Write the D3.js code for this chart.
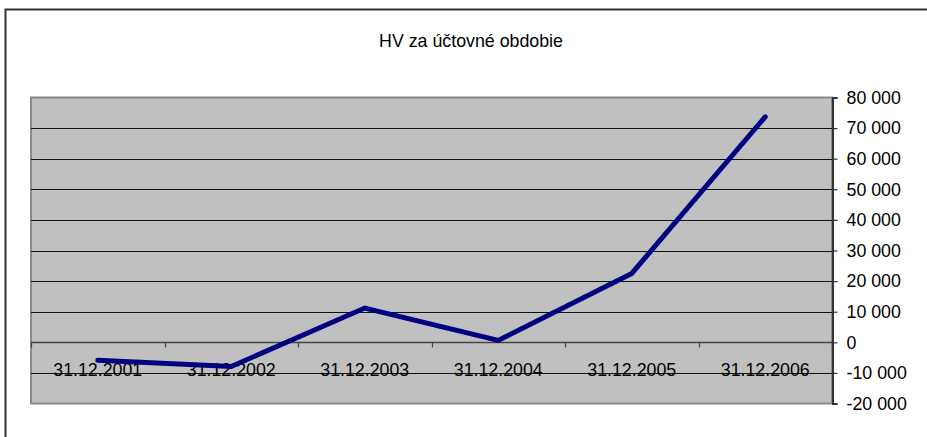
<!DOCTYPE html>
<html>
<head>
<meta charset="utf-8">
<script src="https://cdn.jsdelivr.net/npm/d3@7"></script>
<style>
  body { margin: 0; background: #fff; }
  svg text { font-family: "Liberation Sans", Arial, sans-serif; fill: #000; }
</style>
</head>
<body>
<svg id="chart"></svg>
<script>
// chart data
var title = "HV za účtovné obdobie";
var categories = ["31.12.2001", "31.12.2002", "31.12.2003", "31.12.2004", "31.12.2005", "31.12.2006"];
var values = [-5900, -7900, 11200, 600, 22500, 73700];
var yTicks = [80000, 70000, 60000, 50000, 40000, 30000, 20000, 10000, 0, -10000, -20000];

var width = 927;
var height = 437;
var svg = d3.select("#chart")
    .attr("width", width)
    .attr("height", height);

// outer frame (runs off the right and bottom)
svg.append("path")
    .attr("d", "M5.5," + height + "V9.5H" + width)
    .attr("fill", "none")
    .attr("stroke", "#333")
    .attr("stroke-width", 2);

svg.append("text")
    .attr("x", 471)
    .attr("y", 47)
    .attr("text-anchor", "middle")
    .style("font-size", "17.8px")
    .text(title);

var plot = {left: 31, right: 832, top: 97.5, bottom: 403.5};

var x = d3.scaleBand()
    .domain(categories)
    .range([plot.left, plot.right]);
var y = d3.scaleLinear()
    .domain([-20000, 80000])
    .range([plot.bottom, plot.top]);

// plot background
svg.append("rect")
    .attr("x", plot.left)
    .attr("y", plot.top)
    .attr("width", plot.right - plot.left)
    .attr("height", plot.bottom - plot.top)
    .attr("fill", "#c0c0c0")
    .attr("stroke", "#8a8a8a")
    .attr("stroke-width", 2);

// gridlines
svg.append("g")
    .selectAll("line")
    .data(yTicks.filter(function (d) { return d != 80000 && d != -20000 && d != 0; }))
    .enter().append("line")
    .attr("x1", plot.left)
    .attr("x2", plot.right)
    .attr("y1", function (d) { return Math.round(y(d)) + 0.5; })
    .attr("y2", function (d) { return Math.round(y(d)) + 0.5; })
    .attr("stroke", "#111")
    .attr("stroke-width", 1);

// category axis at zero
var xAxis = svg.append("g")
    .attr("transform", "translate(0," + (Math.round(y(0)) + 0.5) + ")");
xAxis.append("line")
    .attr("x1", plot.left)
    .attr("x2", plot.right)
    .attr("stroke", "#444")
    .attr("stroke-width", 1.5);
xAxis.selectAll(".tick")
    .data(d3.range(categories.length + 1))
    .enter().append("line")
    .attr("x1", function (i) { return Math.round(plot.left + i * x.step()) + 0.5; })
    .attr("x2", function (i) { return Math.round(plot.left + i * x.step()) + 0.5; })
    .attr("y1", 0)
    .attr("y2", 5)
    .attr("stroke", "#444")
    .attr("stroke-width", 1.2);

// category labels
svg.append("g")
    .selectAll("text")
    .data(categories)
    .enter().append("text")
    .attr("x", function (d) { return x(d) + x.bandwidth() / 2; })
    .attr("y", 376)
    .attr("text-anchor", "middle")
    .style("font-size", "17.8px")
    .text(function (d) { return d; });

// value axis on the right
var yAxis = svg.append("g")
    .attr("transform", "translate(" + (plot.right + 0.5) + ",0)")
    .call(d3.axisRight(y)
        .tickValues(yTicks)
        .tickSize(5)
        .tickPadding(9)
        .tickFormat(function (d) { return d3.format(",")(d).replace(/,/g, " ").replace("\u2212", "-"); }));
yAxis.select(".domain").attr("stroke", "#333").attr("stroke-width", 2);
yAxis.selectAll(".tick line").attr("stroke", "#333").attr("stroke-width", 1.2);
yAxis.selectAll(".tick text")
    .style("font-size", "17.8px")
    .style("font-family", "'Liberation Sans', Arial, sans-serif")
    .attr("fill", "#000");

// series line
var line = d3.line()
    .x(function (d, i) { return x(categories[i]) + x.bandwidth() / 2; })
    .y(function (d) { return y(d); });
svg.append("path")
    .attr("d", line(values))
    .attr("fill", "none")
    .attr("stroke", "#000080")
    .attr("stroke-width", 5)
    .attr("stroke-linejoin", "miter")
    .attr("stroke-linecap", "round");
</script>
</body>
</html>
